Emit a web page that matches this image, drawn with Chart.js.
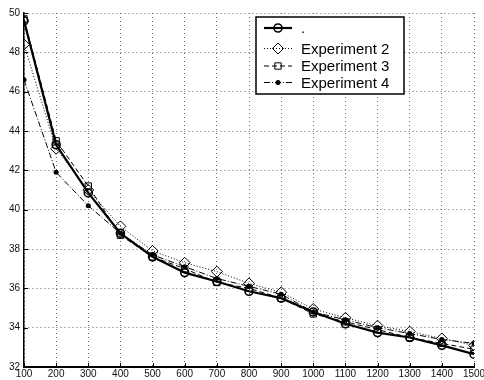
<!DOCTYPE html>
<html>
<head>
<meta charset="utf-8">
<script src="https://cdn.jsdelivr.net/npm/chart.js@4.4.1/dist/chart.umd.min.js"></script>
<style>
  html, body { margin: 0; padding: 0; background: #fff; }
  #wrap { width: 484px; height: 380px; position: relative; }
</style>
</head>
<body>
<div id="wrap"><canvas id="lineChart"></canvas></div>
<script>
// values
var xValues = [100, 200, 300, 400, 500, 600, 700, 800, 900, 1000, 1100, 1200, 1300, 1400, 1500];
var exp1 = [49.6, 43.3, 40.85, 38.8, 37.6, 36.8, 36.35, 35.85, 35.5, 34.8, 34.2, 33.75, 33.5, 33.1, 32.65];
var exp2 = [48.4, 43.1, 41.0, 39.15, 37.9, 37.3, 36.85, 36.25, 35.8, 34.95, 34.5, 34.1, 33.8, 33.45, 33.1];
var exp3 = [49.7, 43.5, 41.2, 38.7, 37.6, 37.0, 36.3, 36.0, 35.5, 34.7, 34.3, 33.9, 33.5, 33.2, 32.9];
var exp4 = [46.6, 41.9, 40.2, 38.8, 37.7, 37.1, 36.5, 36.1, 35.7, 34.8, 34.4, 34.0, 33.7, 33.4, 33.2];
var labels = [".", "Experiment 2", "Experiment 3", "Experiment 4"];

function pts(arr) {
  return arr.map(function (v, i) { return {x: xValues[i], y: v}; });
}

var lineData = {
  datasets: [
    {
      label: labels[0], data: pts(exp1),
      borderColor: "#000", borderWidth: 2.2,
      pointStyle: "circle", pointRadius: 4, pointBorderWidth: 1.6,
      pointBorderColor: "#000", pointBackgroundColor: "rgba(0,0,0,0)"
    },
    {
      label: labels[1], data: pts(exp2),
      borderColor: "#000", borderWidth: 1, borderDash: [1, 2],
      pointStyle: "rectRot", pointRadius: 5.5, pointBorderWidth: 1,
      pointBorderColor: "#000", pointBackgroundColor: "rgba(0,0,0,0)"
    },
    {
      label: labels[2], data: pts(exp3),
      borderColor: "#000", borderWidth: 1, borderDash: [5, 3],
      pointStyle: "rect", pointRadius: 4.5, pointBorderWidth: 1,
      pointBorderColor: "#000", pointBackgroundColor: "rgba(0,0,0,0)"
    },
    {
      label: labels[3], data: pts(exp4),
      borderColor: "#000", borderWidth: 1, borderDash: [6, 2, 1, 2],
      pointStyle: "circle", pointRadius: 2.5, pointBorderWidth: 0,
      pointBorderColor: "#000", pointBackgroundColor: "#000"
    }
  ]
};

// legend box + inward ticks, matlab style
var matlabBits = {
  id: "matlabBits",
  afterDraw: function (chart) {
    var ctx = chart.ctx, a = chart.chartArea;
    var xs = chart.scales.x, ys = chart.scales.y;
    ctx.save();
    ctx.strokeStyle = "#000";
    ctx.lineWidth = 1;
    ctx.beginPath();
    xs.ticks.forEach(function (t) {
      var px = Math.round(xs.getPixelForValue(t.value)) + 0.5;
      ctx.moveTo(px, a.bottom); ctx.lineTo(px, a.bottom - 4);
    });
    ys.ticks.forEach(function (t) {
      var py = Math.round(ys.getPixelForValue(t.value)) + 0.5;
      ctx.moveTo(a.left, py); ctx.lineTo(a.left + 4, py);
    });
    ctx.stroke();

    // legend
    var bx = 256, by = 17, bw = 148, bh = 77;
    ctx.fillStyle = "#fff";
    ctx.fillRect(bx, by, bw, bh);
    ctx.lineWidth = 1.5;
    ctx.strokeRect(bx, by, bw, bh);
    var rows = [28, 48.5, 66, 82.5];
    ctx.font = "15px 'Liberation Sans', Arial, sans-serif";
    ctx.textBaseline = "middle";
    chart.data.datasets.forEach(function (ds, i) {
      var y = rows[i];
      ctx.save();
      ctx.strokeStyle = "#000";
      ctx.lineWidth = ds.borderWidth;
      ctx.setLineDash(ds.borderDash || []);
      ctx.beginPath();
      ctx.moveTo(264, y); ctx.lineTo(292, y);
      ctx.stroke();
      ctx.setLineDash([]);
      ctx.fillStyle = ds.pointBackgroundColor;
      ctx.lineWidth = ds.pointBorderWidth;
      Chart.helpers.drawPoint(ctx, {
        pointStyle: ds.pointStyle, radius: ds.pointRadius, rotation: 0,
        borderWidth: ds.pointBorderWidth
      }, 278, y);
      ctx.fillStyle = "#000";
      ctx.fillText(ds.label, 301, y + 1);
      ctx.restore();
    });
    ctx.restore();
  }
};

var tickFont = { family: "'Liberation Sans', Arial, sans-serif", size: 10 };

var lineOptions = {
  responsive: true,
  maintainAspectRatio: false,
  animation: false,
  layout: { padding: { top: 13, right: 10, left: 0, bottom: 0 } },
  plugins: { legend: { display: false }, tooltip: { enabled: false } },
  scales: {
    x: {
      type: "linear", min: 100, max: 1500,
      ticks: { stepSize: 100, autoSkip: false, maxRotation: 0, padding: 1,
               color: "#111", font: tickFont,
               callback: function (v) { return String(v); } },
      grid: { color: "#666", lineWidth: 1, drawTicks: false },
      border: { display: true, color: "#000", width: 2, dash: [1, 3] },
      afterFit: function (s) { s.height = 13; s.paddingLeft = 0; s.paddingRight = 0; }
    },
    y: {
      min: 32, max: 50,
      ticks: { stepSize: 2, padding: 4, color: "#111", font: tickFont,
               callback: function (v) { return String(v); } },
      grid: { color: "#666", lineWidth: 1, drawTicks: false },
      border: { display: true, color: "#000", width: 1.5, dash: [1, 3] },
      afterFit: function (s) { s.width = 24; s.paddingTop = 0; s.paddingBottom = 0; }
    }
  }
};

var ctx = document.getElementById("lineChart").getContext("2d");
new Chart(ctx, {type: "line", data: lineData, options: lineOptions, plugins: [matlabBits]});
</script>
</body>
</html>
